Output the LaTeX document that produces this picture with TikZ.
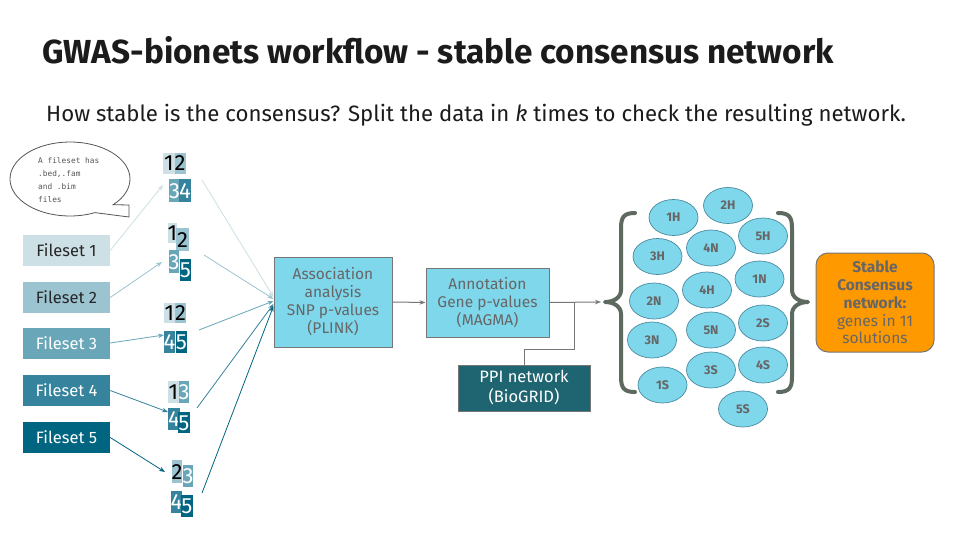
\documentclass[tikz,border=0pt]{standalone}
\usepackage{fontspec}
\setmainfont{Fira Sans}
\newfontfamily\bubblefont{DejaVu Sans Mono}
\usetikzlibrary{arrows.meta,shapes.geometric,calc}

\definecolor{fsA}{HTML}{CDE0E6}
\definecolor{fsB}{HTML}{9CC4D0}
\definecolor{fsC}{HTML}{68A6B8}
\definecolor{fsD}{HTML}{35839C}
\definecolor{fsE}{HTML}{006581}
\definecolor{procfill}{HTML}{7FD7EB}
\definecolor{procline}{HTML}{767676}
\definecolor{proctext}{HTML}{666666}
\definecolor{ppifill}{HTML}{1F6471}
\definecolor{solline}{HTML}{4A8AA0}
\definecolor{bracecol}{HTML}{5E6A60}
\definecolor{stablefill}{HTML}{FF9900}
\definecolor{titlecol}{HTML}{1B1B1B}
\definecolor{notecol}{HTML}{555555}

\begin{document}
\begin{tikzpicture}[x=1pt,y=-1pt,
  fileset/.style={inner sep=0, minimum width=87, minimum height=31,
    font=\fontsize{16.5}{18}\selectfont},
  tile/.style={inner sep=0, text height=15, text depth=0,
    font=\fontsize{22}{22}\selectfont},
  flow/.style={line width=0.8pt, -{Stealth[length=6pt,width=4.5pt]}},
  procbox/.style={draw=procline, line width=1pt, fill=procfill, text=proctext,
    align=center, inner sep=0, font=\fontsize{15.5}{18}\selectfont},
  sol/.style={ellipse, draw=solline, line width=0.7pt, fill=procfill,
    minimum width=49, minimum height=36, inner sep=0, text=proctext,
    font=\fontsize{12.5}{12.5}\selectfont\bfseries},
  bracket/.style={draw=bracecol, line width=4pt, line cap=round, line join=round},
  link/.style={draw=procline, line width=1pt}
]
\path[use as bounding box, fill=white] (0,0) rectangle (960,540);

% headings
\node[anchor=base west, inner sep=0, text=titlecol,
  font=\fontsize{33.3}{36}\selectfont\bfseries] (title) at (42,64)
  {GWAS-bionets workflow - stable consensus network};
\node[anchor=base west, inner sep=0, text=titlecol,
  font=\fontsize{22.2}{26}\selectfont] (subtitle) at (46,122)
  {How stable is the consensus? Split the data in \textit{k} times to check the resulting network.};

% speech bubble with a square tail
\draw[notecol, line width=0.8pt, fill=white]
  (70,179) ++(44:60 and 37) arc[start angle=44, end angle=-294.6, x radius=60, y radius=37]
  -- (129,217) -- (129,205) -- cycle;
\node[anchor=base west, align=left, inner sep=0, text=notecol,
  font=\bubblefont\fontsize{7.8}{13}\selectfont] (note) at (38,202)
  {A fileset has\\.bed,.fam\\and .bim\\files};

% filesets
\node[fileset, fill=fsA, text=black!85] (fs1) at (66.5,250.5) {Fileset 1};
\node[fileset, fill=fsB, text=black!85] (fs2) at (66.5,297.5) {Fileset 2};
\node[fileset, fill=fsC, text=white] (fs3) at (66.5,343) {Fileset 3};
\node[fileset, fill=fsD, text=white] (fs4) at (66.5,390.5) {Fileset 4};
\node[fileset, fill=fsE, text=white] (fs5) at (66.5,437.5) {Fileset 5};

% split groups
\node[tile, fill=fsA, text=black, minimum width=12, minimum height=21] (g1a) at (169,163.5) {1};
\node[tile, fill=fsB, text=black, minimum width=11, minimum height=21] (g1b) at (180,163.5) {2};
\node[tile, fill=fsC, text=white, minimum width=11, minimum height=23] (g1c) at (174.5,190.5) {3};
\node[tile, fill=fsD, text=white, minimum width=10, minimum height=23] (g1d) at (185,190.5) {4};

\node[tile, fill=fsA, text=black, minimum width=8, minimum height=20] (g2a) at (172.5,233) {1};
\node[tile, fill=fsB, text=black, minimum width=13, minimum height=23] (g2b) at (182.5,239.5) {2};
\node[tile, fill=fsC, text=white, minimum width=10, minimum height=23] (g2c) at (174,261.5) {3};
\node[tile, fill=fsE, text=white, minimum width=11, minimum height=22] (g2d) at (185.5,270) {5};

\node[tile, fill=fsA, text=black, minimum width=11, minimum height=20] (g3a) at (169.5,313) {1};
\node[tile, fill=fsB, text=black, minimum width=11, minimum height=20] (g3b) at (180.5,313) {2};
\node[tile, fill=fsD, text=white, minimum width=11, minimum height=22] (g3c) at (169.5,342) {4};
\node[tile, fill=fsE, text=white, minimum width=11, minimum height=22] (g3d) at (181.5,342) {5};

\node[tile, fill=fsA, text=black, minimum width=11, minimum height=22] (g4a) at (173.5,392) {1};
\node[tile, fill=fsC, text=white, minimum width=10, minimum height=22] (g4b) at (184,392) {3};
\node[tile, fill=fsD, text=white, minimum width=10, minimum height=22] (g4c) at (174,419) {4};
\node[tile, fill=fsE, text=white, minimum width=10, minimum height=21] (g4d) at (184,422.5) {5};

\node[tile, fill=fsB, text=black, minimum width=10, minimum height=23] (g5a) at (177,471.5) {2};
\node[tile, fill=fsC, text=white, minimum width=10, minimum height=22] (g5b) at (188,476) {3};
\node[tile, fill=fsD, text=white, minimum width=11, minimum height=22] (g5c) at (176.5,502) {4};
\node[tile, fill=fsE, text=white, minimum width=10, minimum height=22] (g5d) at (187,506) {5};

% arrow ends near the groups
\coordinate (in1) at (163,185);
\coordinate (in2) at (162,262);
\coordinate (in3) at (164,335);
\coordinate (in4) at (168,412);
\coordinate (in5) at (165,472);
\coordinate (out1) at (202,180);
\coordinate (out2) at (204,255);
\coordinate (out3) at (199,330);
\coordinate (out4) at (197,408);
\coordinate (out5) at (202,493);

\draw[flow, fsA] (fs1.east) -- (in1);
\draw[flow, fsB] (fs2.east) -- (in2);
\draw[flow, fsC] (fs3.east) -- (in3);
\draw[flow, fsD] (fs4.east) -- (in4);
\draw[flow, fsE] (fs5.east) -- (in5);

% pipeline boxes
\node[procbox, minimum width=118, minimum height=90] (assoc) at (333,302)
  {Association\\analysis\\SNP p-values\\(PLINK)};
\node[procbox, minimum width=123, minimum height=69] (annot) at (487.5,302.5)
  {Annotation\\Gene p-values\\(MAGMA)};
\node[procbox, fill=ppifill, text=white, font=\fontsize{16.5}{20}\selectfont,
  minimum width=132, minimum height=46] (ppi) at (524,388)
  {PPI network\\(BioGRID)};

\draw[flow, fsA] (out1) -- ([yshift=5]assoc.west);
\draw[flow, fsB] (out2) -- ([yshift=3]assoc.west);
\draw[flow, fsC] (out3) -- ([yshift=1]assoc.west);
\draw[flow, fsD] (out4) -- ([yshift=-2]assoc.west);
\draw[flow, fsE] (out5) -- ([yshift=-4]assoc.west);

\draw[link, -{Stealth[length=6pt,width=4.5pt]}] (assoc.east) -- (annot.west);

% into the set of solutions
\coordinate (settip) at (601,302);
\coordinate (join) at (574,302);
\draw[link, -{Stealth[length=6pt,width=4.5pt]}] (annot.east) -- (settip);
\draw[link] (ppi.north) -- ++(0,-15) -| (join);

% braces around the solutions
\draw[bracket] (635,213) .. controls (624,213) and (621,217) .. (621,228) -- (621,290)
  .. controls (621,298) and (613,302) .. (605,302)
  .. controls (613,302) and (621,306) .. (621,314) -- (621,377)
  .. controls (621,388) and (624,392) .. (635,392);
\draw[bracket] (778,213) .. controls (789,213) and (792,217) .. (792,228) -- (792,290)
  .. controls (792,298) and (800,302) .. (808,302)
  .. controls (800,302) and (792,306) .. (792,314) -- (792,377)
  .. controls (792,388) and (789,392) .. (778,392);

% solutions
\node[sol] (s1H) at (673.5,217.5) {1H};
\node[sol] (s2H) at (728,205.5) {2H};
\node[sol] (s5H) at (763,236) {5H};
\node[sol] (s3H) at (657.5,256.5) {3H};
\node[sol] (s4N) at (711,248) {4N};
\node[sol] (s1N) at (759.5,279) {1N};
\node[sol] (s4H) at (707,290) {4H};
\node[sol] (s2N) at (654,301) {2N};
\node[sol] (s2S) at (763,323) {2S};
\node[sol] (s5N) at (711,330) {5N};
\node[sol] (s3N) at (652,340) {3N};
\node[sol] (s3S) at (711,370) {3S};
\node[sol] (s4S) at (763,365) {4S};
\node[sol] (s1S) at (662.5,385) {1S};
\node[sol] (s5S) at (743,409) {5S};

% result
\node[draw=procline, line width=1pt, fill=stablefill, rounded corners=12,
  minimum width=118, minimum height=99, inner sep=0, align=center, text=proctext,
  font=\fontsize{15.5}{17.8}\selectfont] (stable) at (875,302.5)
  {\textbf{Stable}\\\textbf{Consensus}\\\textbf{network:}\\genes in 11\\solutions};
\end{tikzpicture}
\end{document}
